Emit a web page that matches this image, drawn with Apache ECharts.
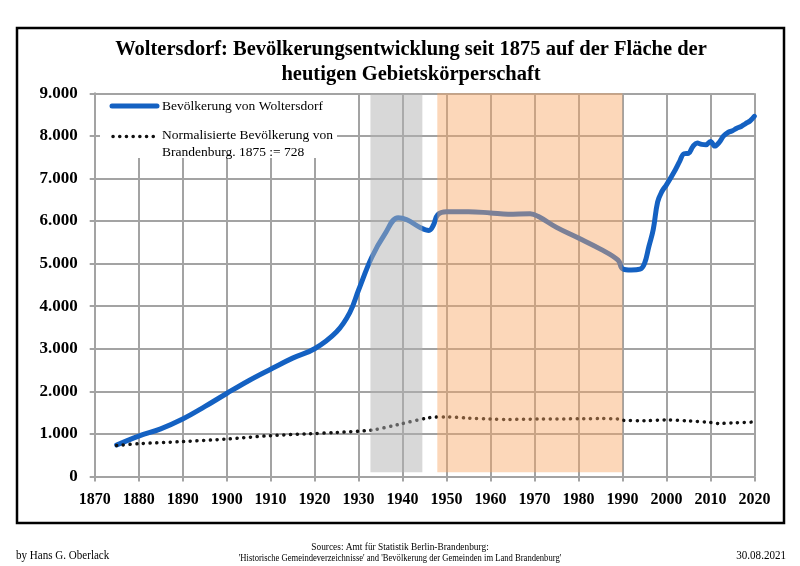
<!DOCTYPE html>
<html>
<head>
<meta charset="utf-8">
<script src="https://cdn.jsdelivr.net/npm/echarts@6/dist/echarts.min.js"></script>
<style>
html,body{margin:0;padding:0;background:#fff;}
#chart{width:800px;height:566px;}
</style>
</head>
<body>
<div id="chart"></div>
<script>
// Woltersdorf population
const woltYears = [1875,1880,1885,1890,1895,1900,1905,1910,1915,1920,1925,1928,1930,1933,1936,1939,1941,1944,1946,1947,1948,1950,1955,1960,1964,1969,1971,1975,1980,1985,1989,1990,1992,1994,1995,1996,1997,1998,1999,2000,2002,2003,2004,2005,2006,2007,2008,2009,2010,2011,2012,2013,2014,2015,2016,2017,2018,2019,2020];
const woltValues = [740,950,1120,1350,1640,1950,2250,2520,2780,3000,3400,3850,4380,5150,5700,6080,6030,5850,5780,5900,6150,6220,6220,6190,6160,6170,6100,5850,5600,5340,5080,4880,4850,4870,5000,5400,5800,6450,6700,6850,7200,7400,7580,7590,7750,7830,7800,7790,7870,7760,7850,8000,8080,8120,8180,8220,8290,8350,8460];
// Normalised population of Brandenburg (1875 := 728)
const brbYears = [1875,1880,1890,1900,1910,1919,1925,1933,1939,1946,1950,1955,1960,1964,1971,1981,1985,1989,1990,1995,2000,2005,2010,2012,2015,2020];
const brbValues = [728,770,820,880,960,1005,1035,1090,1220,1380,1400,1370,1350,1340,1350,1355,1360,1350,1320,1310,1330,1305,1270,1245,1260,1280];
// Shaded periods
const shadedPeriods = [[1932.7,1944.5],[1947.9,1990]];
const shadedColors = ['rgba(178,178,178,0.5)','rgba(248,166,100,0.45)'];

const woltData = woltYears.map((y,i)=>[y,woltValues[i]]);
const brbData = brbYears.map((y,i)=>[y,brbValues[i]]);

const serif = "'Liberation Serif', 'DejaVu Serif', serif";
const blue = '#1461C2';
const gridCol = '#A3A3A3';

const chart = echarts.init(document.getElementById('chart'), null, {renderer:'canvas'});
chart.setOption({
  animation:false,
  backgroundColor:'#fff',
  title:{
    text:'Woltersdorf: Bevölkerungsentwicklung seit 1875 auf der Fläche der\nheutigen Gebietskörperschaft',
    left:411, top:37, padding:0, textAlign:'center',
    textStyle:{fontFamily:serif, fontWeight:'bold', fontSize:20.5, lineHeight:25, color:'#000'}
  },
  grid:{left:94.7, right:45.6, top:93.3, bottom:89.5, containLabel:false},
  xAxis:{
    type:'value', min:1870, max:2020, interval:10,
    axisLine:{show:true, onZero:false, lineStyle:{color:gridCol, width:2}},
    axisTick:{show:true, length:5, lineStyle:{color:gridCol, width:2}},
    splitLine:{show:true, lineStyle:{color:gridCol, width:2}},
    axisLabel:{fontFamily:serif, fontWeight:'bold', fontSize:16, color:'#000', margin:15,
      formatter:v=>String(v)}
  },
  yAxis:{
    type:'value', min:0, max:9000, interval:1000,
    axisLine:{show:true, lineStyle:{color:gridCol, width:2}},
    axisTick:{show:true, length:5, lineStyle:{color:gridCol, width:2}},
    splitLine:{show:true, lineStyle:{color:gridCol, width:2}},
    axisLabel:{fontFamily:serif, fontWeight:'bold', fontSize:17, color:'#000', margin:17,
      formatter:v=>String(v).replace(/\B(?=(\d{3})+(?!\d))/g,'.')}
  },
  series:[
    {
      name:'Bevölkerung von Woltersdorf', type:'line', data:woltData, smooth:0.4,
      showSymbol:false, symbol:'none', z:3,
      lineStyle:{color:blue, width:5, cap:'round', join:'round'}
    },
    {
      name:'Normalisierte Bevölkerung von Brandenburg. 1875 := 728', type:'line', data:brbData, smooth:0.3,
      showSymbol:false, symbol:'none', z:3,
      lineStyle:{color:'#111', width:3.5, type:[0.1,6.6], cap:'round'}
    },
    {
      name:'Zeiträume', type:'line', data:[], z:10, silent:true,
      markArea:{
        silent:true, z:10,
        data: shadedPeriods.map((p,i)=>[
          {xAxis:p[0], yAxis:100, itemStyle:{color:shadedColors[i]}},
          {xAxis:p[1], yAxis:9080}
        ])
      }
    }
  ],
  graphic:[
    {type:'rect', shape:{x:17, y:28, width:767, height:495}, style:{fill:'none', stroke:'#000', lineWidth:2.5}, z:100},
    {type:'rect', shape:{x:100, y:95, width:237, height:63}, style:{fill:'#fff'}, z:50},
    {type:'line', shape:{x1:112, y1:106, x2:157, y2:106}, style:{stroke:blue, lineWidth:5, lineCap:'round'}, z:51},
    {type:'text', x:162, y:106, style:{text:'Bevölkerung von Woltersdorf', fontFamily:serif, fontSize:13.5, fill:'#000', verticalAlign:'middle'}, z:51},
    {type:'line', shape:{x1:113, y1:136.5, x2:156, y2:136.5}, style:{stroke:'#111', lineWidth:3.5, lineCap:'round', lineDash:[0.1,6.6]}, z:51},
    {type:'text', x:162, y:127, style:{text:'Normalisierte Bevölkerung von\nBrandenburg. 1875 := 728', fontFamily:serif, fontSize:13.5, lineHeight:17, fill:'#000', verticalAlign:'top'}, z:51},
    {type:'text', x:16, y:556, scaleX:0.85, style:{text:'by Hans G. Oberlack', fontFamily:serif, fontSize:13, fill:'#000', verticalAlign:'middle'}},
    {type:'text', x:786, y:556, scaleX:0.85, style:{text:'30.08.2021', fontFamily:serif, fontSize:13, fill:'#000', align:'right', verticalAlign:'middle'}},
    {type:'text', x:400, y:547, scaleX:0.85, style:{text:'Sources: Amt für Statistik Berlin-Brandenburg:', fontFamily:serif, fontSize:11, fill:'#000', align:'center', verticalAlign:'middle'}},
    {type:'text', x:400, y:558, scaleX:0.78, style:{text:"'Historische Gemeindeverzeichnisse' and 'Bevölkerung der Gemeinden im Land Brandenburg'", fontFamily:serif, fontSize:11, fill:'#000', align:'center', verticalAlign:'middle'}}
  ]
});
</script>
</body>
</html>
